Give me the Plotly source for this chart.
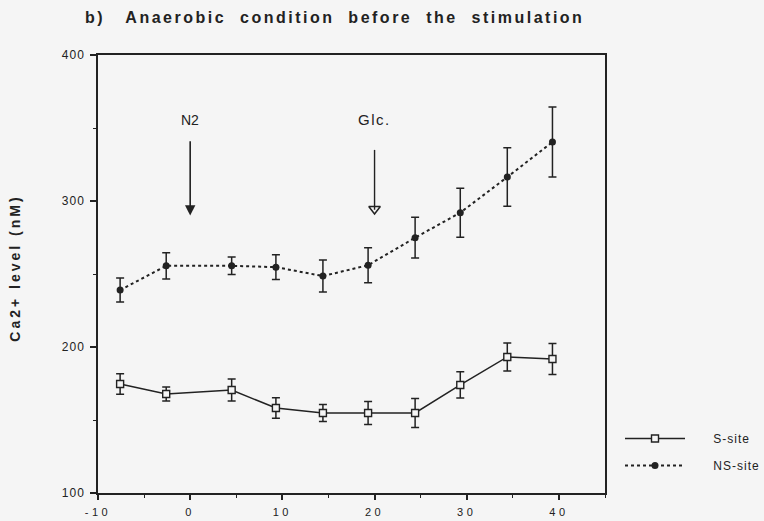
import plotly.graph_objects as go

# Time (min) relative to N2 onset, and Ca2+ levels (nM) with SEM
time_min = [-7.6, -2.6, 4.5, 9.3, 14.4, 19.3, 24.4, 29.3, 34.4, 39.3]
s_site = [174.7, 167.8, 170.5, 158.2, 154.8, 154.8, 154.8, 174.0, 193.2, 191.8]
s_site_err = [7.0, 4.8, 7.5, 7.0, 5.8, 7.9, 10.0, 9.0, 9.6, 10.6]
ns_site = [239.0, 255.6, 255.6, 254.7, 248.6, 256.0, 274.9, 292.0, 316.4, 340.4]
ns_site_err = [8.2, 9.0, 6.0, 8.5, 11.0, 12.0, 14.0, 16.8, 20.0, 24.0]

series_names = ["S-site", "NS-site"]
event_labels = ["N2", "Glc."]
event_times = [0, 20]

x_ticks = [-10, 0, 10, 20, 30, 40]
y_ticks = [100, 200, 300, 400]

INK = "#222222"
BG = "#f5f5f5"
FONT = "Liberation Sans, Arial, sans-serif"
PAD = "\u00a0" * 7


def spaced(text, px):
    return f'<span style="letter-spacing:{px}px">{text}</span>'


fig = go.Figure()

fig.add_trace(go.Scatter(
    x=time_min, y=s_site, name=PAD + spaced(series_names[0], 1),
    legendgroup=series_names[0],
    mode="lines+markers",
    line=dict(color=INK, width=1.5),
    marker=dict(symbol="square", size=7, color=BG, line=dict(color=INK, width=1.4)),
    error_y=dict(type="data", array=s_site_err, color=INK, thickness=1.5, width=4),
))
fig.add_trace(go.Scatter(
    x=time_min, y=ns_site, name=PAD + spaced(series_names[1], 1),
    legendgroup=series_names[1],
    mode="lines+markers",
    line=dict(color=INK, width=2, dash="dot"),
    marker=dict(symbol="circle", size=7, color=INK),
    error_y=dict(type="data", array=ns_site_err, color=INK, thickness=1.5, width=4),
))

# N2 arrow: filled head
fig.add_annotation(
    x=event_times[0], y=290, ax=event_times[0], ay=342,
    xref="x", yref="y", axref="x", ayref="y",
    text="", showarrow=True, arrowhead=2, arrowsize=1.3, arrowwidth=1.6,
    arrowcolor=INK,
)
fig.add_annotation(
    x=event_times[0], y=355.5, xref="x", yref="y", showarrow=False,
    text=event_labels[0], font=dict(family=FONT, size=14, color=INK),
)

# Glc. arrow: open head
fig.add_trace(go.Scatter(
    x=[event_times[1], event_times[1]], y=[335, 294], mode="lines",
    line=dict(color=INK, width=1.4), showlegend=False, hoverinfo="skip",
))
fig.add_trace(go.Scatter(
    x=[event_times[1]], y=[294.5], mode="markers",
    marker=dict(symbol="triangle-down-open", size=10, color=INK, line=dict(width=1.5)),
    showlegend=False, hoverinfo="skip",
))
fig.add_annotation(
    x=event_times[1], y=355.5, xref="x", yref="y", showarrow=False,
    text=spaced(event_labels[1], 1.5), font=dict(family=FONT, size=15, color=INK),
)

# Y axis title
fig.add_annotation(
    x=-0.164, y=0.514, xref="paper", yref="paper", showarrow=False,
    textangle=-90, xanchor="center", yanchor="middle",
    text="<b>" + spaced("Ca2+ level (nM)", 3) + "</b>",
    font=dict(family=FONT, size=14, color=INK),
)

fig.update_layout(
    width=764, height=521,
    margin=dict(l=98, r=159, t=55, b=28, autoexpand=False),
    paper_bgcolor=BG, plot_bgcolor=BG,
    font=dict(family=FONT, color=INK),
    title=dict(
        text="<b>" + spaced("b)\u00a0\u00a0 Anaerobic\u00a0 condition\u00a0 before\u00a0 the\u00a0 stimulation", 2.5) + "</b>",
        x=85 / 764, xanchor="left", y=1 - 17 / 521, yanchor="middle",
        xref="container", yref="container",
        font=dict(family=FONT, size=16, color=INK),
    ),
    showlegend=True,
    legend=dict(
        xref="container", yref="container",
        x=620 / 764, xanchor="left", y=1 - 424 / 521, yanchor="top",
        bgcolor="rgba(0,0,0,0)", font=dict(family=FONT, size=12, color=INK),
        itemwidth=60, traceorder="grouped", tracegroupgap=8,
    ),
    xaxis=dict(
        range=[-10, 45], tickvals=x_ticks,
        ticktext=[spaced(str(v), 3.5) for v in x_ticks],
        ticks="outside", ticklen=5, tickwidth=1.5, tickcolor=INK,
        showline=True, linecolor=INK, linewidth=1.5, mirror=True,
        showgrid=False, zeroline=False, automargin=False,
        tickfont=dict(family=FONT, size=11, color=INK),
        ticklabelstandoff=3,
        minor=dict(dtick=5, tick0=-5, ticks="outside", ticklen=3, tickwidth=1.2, tickcolor=INK, showgrid=False),
    ),
    yaxis=dict(
        range=[100, 400], tickvals=y_ticks,
        ticktext=[spaced(str(v), 1) for v in y_ticks],
        ticks="outside", ticklen=6, tickwidth=1.5, tickcolor=INK,
        showline=True, linecolor=INK, linewidth=1.5, mirror=True,
        showgrid=False, zeroline=False, automargin=False,
        tickfont=dict(family=FONT, size=12, color=INK),
        ticklabelstandoff=3,
        minor=dict(dtick=50, tick0=150, ticks="outside", ticklen=3, tickwidth=1.2, tickcolor=INK, showgrid=False),
    ),
)

fig.write_html("out.html")
